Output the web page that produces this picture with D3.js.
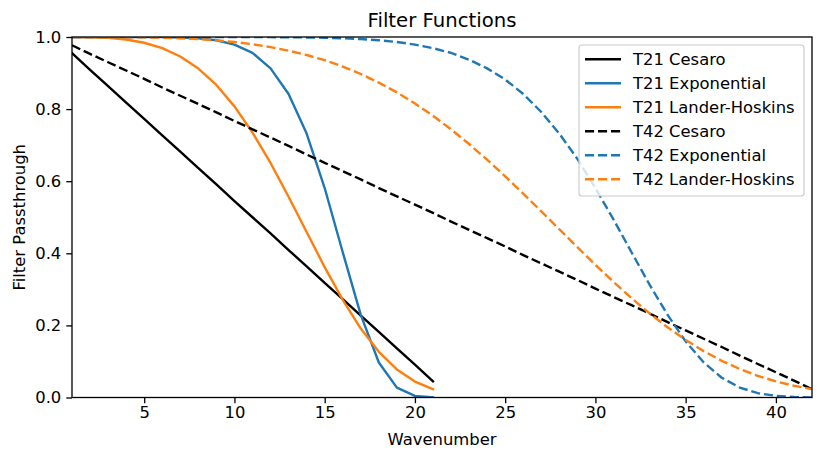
<!DOCTYPE html>
<html>
<head>
<meta charset="utf-8">
<script src="https://cdn.jsdelivr.net/npm/d3@7"></script>
<style>
  html, body { margin: 0; padding: 0; background: #fff; }
  svg { display: block; font-family: "DejaVu Sans", sans-serif; }
</style>
</head>
<body>
<svg id="chart" width="830" height="460"></svg>
<script>
// ---- data ----
const title = "Filter Functions";
const xLabel = "Wavenumber";
const yLabel = "Filter Passthrough";
const xTicks = [5, 10, 15, 20, 25, 30, 35, 40];
const yTicks = [0.0, 0.2, 0.4, 0.6, 0.8, 1.0];

const wavenumbersT21 = d3.range(1, 22);
const wavenumbersT42 = d3.range(1, 43);

const t21Cesaro = [0.955, 0.909, 0.864, 0.818, 0.773, 0.727, 0.682, 0.636, 0.591, 0.545, 0.500,
  0.455, 0.409, 0.364, 0.318, 0.273, 0.227, 0.182, 0.136, 0.091, 0.045];
const t21Exponential = [1.000, 1.000, 1.000, 1.000, 1.000, 0.9996, 0.9988, 0.9965, 0.991, 0.979, 0.956,
  0.913, 0.842, 0.732, 0.581, 0.403, 0.229, 0.097, 0.0275, 0.0045, 0.0003];
const t21LanderHoskins = [1.000, 0.9994, 0.9975, 0.993, 0.984, 0.969, 0.946, 0.9125, 0.867, 0.8076, 0.735,
  0.6506, 0.557, 0.459, 0.3615, 0.2707, 0.1913, 0.1267, 0.078, 0.0443, 0.0231];

const t42Cesaro = [0.977, 0.953, 0.930, 0.907, 0.884, 0.860, 0.837, 0.814, 0.791, 0.767, 0.744,
  0.721, 0.698, 0.674, 0.651, 0.628, 0.605, 0.581, 0.558, 0.535, 0.512, 0.488, 0.465, 0.442,
  0.419, 0.395, 0.372, 0.349, 0.326, 0.302, 0.279, 0.256, 0.233, 0.209, 0.186, 0.163, 0.140,
  0.116, 0.093, 0.070, 0.047, 0.023];
const t42Exponential = [1.000, 1.000, 1.000, 1.000, 1.000, 1.000, 1.000, 1.000, 1.000, 1.000, 1.000,
  0.9996, 0.9993, 0.9988, 0.9979, 0.9965, 0.9943, 0.991, 0.986, 0.979, 0.969, 0.956, 0.937,
  0.913, 0.882, 0.842, 0.792, 0.732, 0.662, 0.581, 0.494, 0.403, 0.313, 0.229, 0.1556, 0.0972,
  0.0549, 0.0275, 0.012, 0.0045, 0.0014, 0.0003];
const t42LanderHoskins = [1.000, 1.000, 1.000, 0.9995, 0.999, 0.998, 0.9964, 0.994, 0.9907, 0.986,
  0.980, 0.972, 0.962, 0.950, 0.9356, 0.918, 0.8974, 0.8735, 0.8463, 0.8155, 0.7814, 0.7438,
  0.7032, 0.6596, 0.6137, 0.5657, 0.5165, 0.4667, 0.4169, 0.368, 0.3206, 0.2756, 0.2334,
  0.1946, 0.1596, 0.1287, 0.1018, 0.079, 0.060, 0.0447, 0.0325, 0.0231];

const seriesNames = ["T21 Cesaro", "T21 Exponential", "T21 Lander-Hoskins",
                     "T42 Cesaro", "T42 Exponential", "T42 Lander-Hoskins"];
const seriesX = [wavenumbersT21, wavenumbersT21, wavenumbersT21, wavenumbersT42, wavenumbersT42, wavenumbersT42];
const seriesY = [t21Cesaro, t21Exponential, t21LanderHoskins, t42Cesaro, t42Exponential, t42LanderHoskins];
const seriesColors = ["#000000", "#1f77b4", "#ff7f0e", "#000000", "#1f77b4", "#ff7f0e"];
const seriesDashed = [false, false, false, true, true, true];

// ---- layout ----
const plot = { left: 72, right: 812, top: 37, bottom: 397.5 };
const fontSize = 16.4;
const lineW = 2.4;
const dash = "9.1,3.9";

const svg = d3.select("#chart");
const x = d3.scaleLinear().domain([1, 42]).range([plot.left, plot.right]);
const y = d3.scaleLinear().domain([0, 1]).range([plot.bottom, plot.top]);

svg.append("defs").append("clipPath").attr("id", "clip")
  .append("rect")
  .attr("x", plot.left).attr("y", plot.top)
  .attr("width", plot.right - plot.left).attr("height", plot.bottom - plot.top);

// lines
const line = d3.line().x(d => x(d[0])).y(d => y(d[1]));
const gLines = svg.append("g").attr("clip-path", "url(#clip)");
seriesNames.forEach((name, i) => {
  const pts = seriesX[i].map((n, j) => [n, seriesY[i][j]]);
  gLines.append("path")
    .datum(pts)
    .attr("d", line)
    .attr("fill", "none")
    .attr("stroke", seriesColors[i])
    .attr("stroke-width", lineW)
    .attr("stroke-linejoin", "round")
    .attr("stroke-linecap", seriesDashed[i] ? "butt" : "square")
    .attr("stroke-dasharray", seriesDashed[i] ? dash : null);
});

// axes
const xAxis = d3.axisBottom(x).tickValues(xTicks).tickSize(5.7).tickPadding(5).tickFormat(d3.format("d"));
const yAxis = d3.axisLeft(y).tickValues(yTicks).tickSize(5.7).tickPadding(5).tickFormat(d3.format(".1f"));

const gx = svg.append("g").attr("transform", `translate(0,${plot.bottom})`).call(xAxis);
const gy = svg.append("g").attr("transform", `translate(${plot.left},0)`).call(yAxis);
[gx, gy].forEach(g => {
  g.select(".domain").remove();
  g.selectAll(".tick line").attr("stroke", "#000").attr("stroke-width", 1.3);
  g.selectAll(".tick text").attr("fill", "#000")
    .style("font-family", "DejaVu Sans, sans-serif").style("font-size", fontSize + "px");
});
gx.selectAll(".tick text").attr("dy", "0.71em").attr("y", 9);

// spines
svg.append("rect")
  .attr("x", plot.left).attr("y", plot.top)
  .attr("width", plot.right - plot.left).attr("height", plot.bottom - plot.top)
  .attr("fill", "none").attr("stroke", "#000").attr("stroke-width", 1.3);

// title & labels
svg.append("text").attr("x", (plot.left + plot.right) / 2).attr("y", 26.5)
  .attr("text-anchor", "middle").style("font-size", (fontSize * 1.2) + "px").text(title);
svg.append("text").attr("x", (plot.left + plot.right) / 2).attr("y", 445)
  .attr("text-anchor", "middle").style("font-size", fontSize + "px").text(xLabel);
svg.append("text")
  .attr("transform", `translate(24.5,${(plot.top + plot.bottom) / 2}) rotate(-90)`)
  .attr("text-anchor", "middle").style("font-size", fontSize + "px").text(yLabel);

// legend
const leg = svg.append("g");
leg.append("rect")
  .attr("x", 579).attr("y", 45).attr("width", 225).attr("height", 151)
  .attr("rx", 3).attr("ry", 3)
  .attr("fill", "#fff").attr("fill-opacity", 0.8)
  .attr("stroke", "#cccccc").attr("stroke-width", 1.2);
seriesNames.forEach((name, i) => {
  const cy = 59.3 + i * 24;
  leg.append("line")
    .attr("x1", 585).attr("x2", 621).attr("y1", cy).attr("y2", cy)
    .attr("stroke", seriesColors[i]).attr("stroke-width", lineW)
    .attr("stroke-dasharray", seriesDashed[i] ? dash : null);
  leg.append("text").attr("x", 633).attr("y", cy + 6)
    .style("font-size", fontSize + "px").text(name);
});
</script>
</body>
</html>
